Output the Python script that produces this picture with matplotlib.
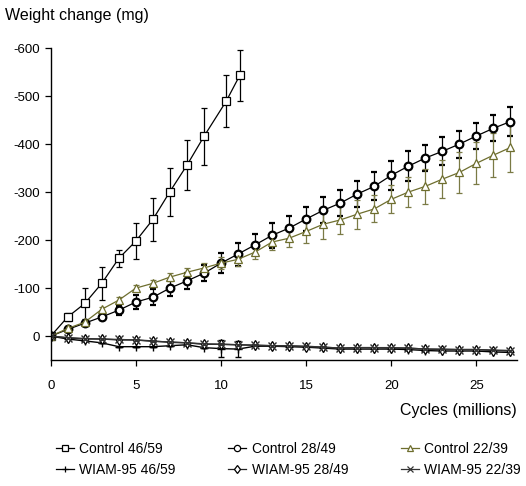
import matplotlib
matplotlib.use("Agg")
import matplotlib.pyplot as plt
from matplotlib.lines import Line2D
import numpy as np

plt.rcParams['font.family'] = ['Liberation Sans', 'DejaVu Sans']
plt.rcParams['axes.unicode_minus'] = False

# Control 46/59 (squares)
c46_x = [0, 1, 2, 3, 4, 5, 6, 7, 8, 9, 10.3, 11.1]
c46_y = [0, -40, -68, -110, -162, -198, -243, -301, -356, -416, -489, -543]
c46_e = [0, 8, 33, 35, 17, 38, 45, 50, 52, 60, 54, 53]

# Control 28/49 (circles)
cyc = list(range(28))
c28_y = [0, -14, -27, -40, -54, -71, -81, -100, -115, -131, -152, -171, -190,
         -210, -225, -244, -262, -277, -296, -312, -335, -354, -371, -385,
         -400, -417, -433, -447]
c28_e = [0, 5, 5, 6, 9, 14, 17, 17, 17, 17, 21, 24, 22,
         26, 25, 26, 27, 27, 28, 29, 30, 31, 28, 29, 28, 28, 27, 30]

# Control 22/39 (triangles)
c22_y = [0, -16, -29, -56, -75, -100, -110, -123, -133, -142, -152, -160, -175,
         -196, -204, -218, -233, -242, -254, -265, -285, -300, -312, -327,
         -341, -360, -377, -393]
c22_e = [0, 4, 5, 5, 6, 6, 7, 8, 9, 10, 12, 14, 15,
         17, 18, 24, 31, 30, 30, 28, 29, 32, 36, 40, 43, 44, 46, 51]

# WIAM-95 series
w46_y = [0, 6, 10, 14, 22, 22, 22, 20, 18, 24, 26, 27, 21,
         21, 22, 23, 25, 27, 27, 27, 27, 28, 30, 31, 31, 31, 33, 34]
w46_e = [0, 0, 0, 0, 0, 0, 0, 0, 0, 0, 17, 17, 0,
         0, 0, 0, 0, 0, 0, 0, 0, 0, 0, 0, 0, 0, 0, 0]
w28_y = [0, 4, 6, 6, 8, 8, 10, 13, 14, 17, 17, 18, 19,
         20, 21, 22, 23, 25, 24, 24, 25, 25, 27, 28, 28, 28, 30, 31]
w22_y = [0, 3, 5, 6, 7, 8, 11, 12, 14, 16, 17, 18, 19,
         20, 20, 21, 23, 25, 24, 24, 24, 25, 27, 27, 28, 28, 29, 30]

olive = '#6e6e2e'

fig = plt.figure(figsize=(5.26, 4.86), dpi=100)
ax = fig.add_axes([0.0964, 0.259, 0.887, 0.642])

ebkw = dict(capsize=2, elinewidth=0.9, capthick=0.9)

h1 = ax.errorbar(c46_x, c46_y, yerr=c46_e, color='black', lw=0.9, marker='s',
                 ms=5.5, mfc='white', mec='black', mew=0.9, label='Control 46/59', **ebkw)
h2 = ax.errorbar(cyc, c28_y, yerr=c28_e, color='black', lw=0.9, marker='o',
                 ms=5.5, mfc='white', mec='black', mew=1.6, label='Control 28/49', **ebkw)
h3 = ax.errorbar(cyc, c22_y, yerr=c22_e, color=olive, lw=0.9, marker='^',
                 ms=6, mfc='white', mec=olive, mew=0.9, label='Control 22/39',
                 ecolor='#7a7a45', **ebkw)
h4 = ax.errorbar(cyc, w46_y, yerr=w46_e, color='black', lw=1.0, marker='+',
                 ms=6, mew=1.0, label='WIAM-95 46/59', **ebkw)
h5 = ax.errorbar(cyc, w28_y, color='#222222', lw=1.0, marker='d',
                 ms=5, mfc='white', mec='black', mew=0.9, label='WIAM-95 28/49')
h6 = ax.errorbar(cyc, w22_y, color='#333333', lw=1.0, marker='x',
                 ms=5.5, mew=1.0, label='WIAM-95 22/39')

ax.set_xlim(0, 27.4)
ax.set_ylim(50, -600)
ax.set_xticks([0, 5, 10, 15, 20, 25])
ax.set_yticks([-600, -500, -400, -300, -200, -100, 0])
for s in ['top', 'right']:
    ax.spines[s].set_visible(False)
for s in ['left', 'bottom']:
    ax.spines[s].set_linewidth(1.0)
ax.tick_params(labelsize=9.5, length=4, width=0.9, direction='out')
ax.tick_params(axis='x', pad=10)

fig.text(0.01, 0.968, 'Weight change (mg)', fontsize=11.5, ha='left', va='center')
fig.text(0.983, 0.155, 'Cycles (millions)', fontsize=11.5, ha='right', va='center')

# legend handles: plain line + small marker, no error bars
order = [h1, h4, h2, h5, h3, h6]
handles = []
for h in order:
    ln = h.lines[0]
    handles.append(Line2D([], [], color=ln.get_color(), lw=0.9,
                          marker=ln.get_marker(), ms=4.5,
                          mfc=ln.get_markerfacecolor(), mec=ln.get_markeredgecolor(),
                          mew=0.9))
labels = [h.get_label() for h in order]
fig.legend(handles, labels, ncol=3, frameon=False, fontsize=10,
           loc='center', bbox_to_anchor=(0.548, 0.055), handlelength=1.3,
           handletextpad=0.4, columnspacing=3.77, labelspacing=0.5)

fig.savefig('out.png', dpi=100)
